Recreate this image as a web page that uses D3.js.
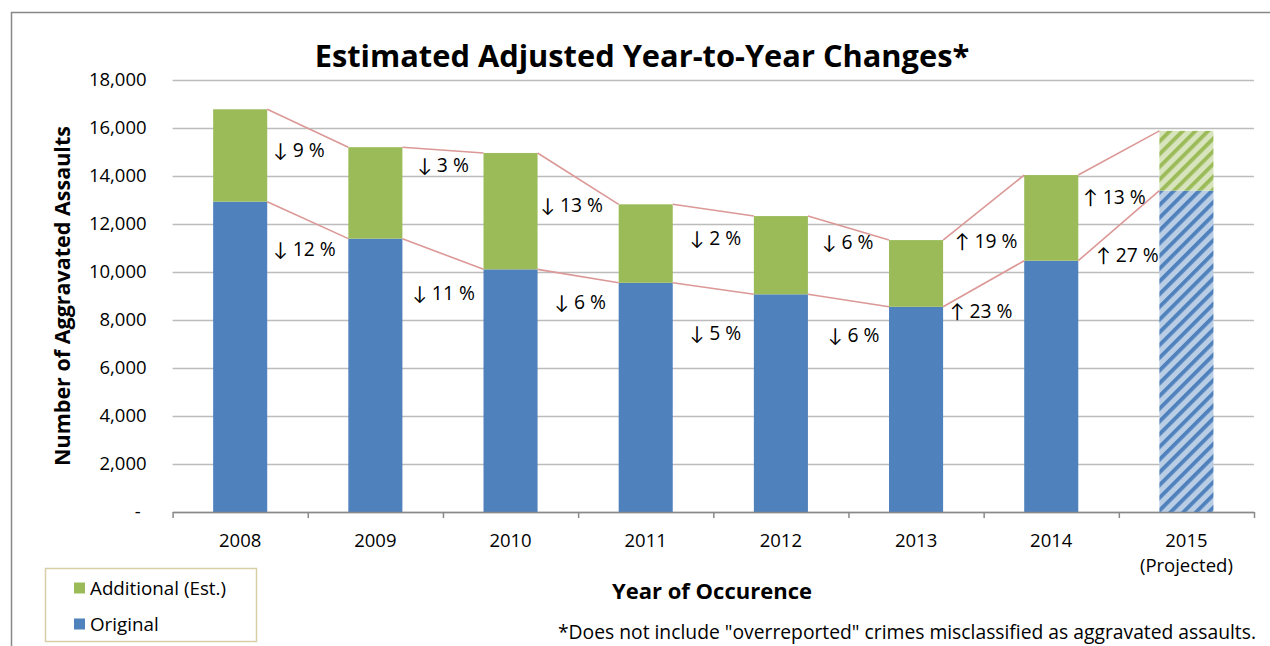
<!DOCTYPE html>
<html>
<head>
<meta charset="utf-8">
<script src="https://cdn.jsdelivr.net/npm/d3@7"></script>
<style>
  html, body { margin: 0; padding: 0; background: #fff; }
  svg { display: block; font-family: "Open Sans", Lato, sans-serif; }
</style>
</head>
<body>
<svg id="chart" width="1270" height="646"></svg>
<script>
// Aggravated assaults by year of occurrence
const years = ["2008", "2009", "2010", "2011", "2012", "2013", "2014", "2015"];
const original = [12930, 11390, 10110, 9550, 9070, 8550, 10470, 13390];
const additional = [3850, 3810, 4850, 3270, 3260, 2780, 3570, 2490];
const projectedYear = "2015";

// Year-to-year change labels (total on top, original below)
const totalChange = ["↓ 9 %", "↓ 3 %", "↓ 13 %", "↓ 2 %", "↓ 6 %", "↑ 19 %", "↑ 13 %"];
const originalChange = ["↓ 12 %", "↓ 11 %", "↓ 6 %", "↓ 5 %", "↓ 6 %", "↑ 23 %", "↑ 27 %"];

const yTicks = [0, 2000, 4000, 6000, 8000, 10000, 12000, 14000, 16000, 18000];

// ---- layout ----
const plot = { left: 172.6, right: 1254, top: 80, bottom: 512 };
const colors = {
  original: "#4F81BD", originalLight: "#B9CDE5",
  additional: "#9BBB59", additionalLight: "#D7E4BD",
  seriesLine: "#DB9896", grid: "#BCBCBC", axis: "#898989"
};
const fs = { tick: 18.5, label: 19.3, title: 30.8, axisTitle: 22, note: 19.3, legend: 18.8 };
// label placement relative to the bar's right edge and the lower end of its connector
const totalNudge = [[6, 3], [15, 12], [3, 1], [17, 22], [14, 2], [12, 1], [5, 22]];
const originalNudge = [[6, 11], [10, 24], [17, 19], [17, 39], [20, 28], [7, 4], [18, -5]];

const svg = d3.select("#chart");

// chart frame
svg.append("rect")
  .attr("x", 11.5).attr("y", 12.5)
  .attr("width", 1300).attr("height", 700)
  .attr("fill", "none").attr("stroke", "#888").attr("stroke-width", 1.5);

// hatch patterns for the projected year
const defs = svg.append("defs");
function hatch(id, bg, fg) {
  const p = defs.append("pattern")
    .attr("id", id).attr("patternUnits", "userSpaceOnUse")
    .attr("width", 9).attr("height", 9)
    .attr("patternTransform", "rotate(45)");
  p.append("rect").attr("width", 9).attr("height", 9).attr("fill", bg);
  p.append("rect").attr("width", 3.8).attr("height", 9).attr("fill", fg);
}
hatch("hatchOriginal", colors.originalLight, colors.original);
hatch("hatchAdditional", colors.additionalLight, colors.additional);

const x = d3.scaleBand().domain(years)
  .range([plot.left, plot.right]).paddingInner(0.6).paddingOuter(0.3);
const y = d3.scaleLinear().domain([0, 18000]).range([plot.bottom, plot.top]);

// y axis with gridlines
const yAxis = svg.append("g")
  .attr("transform", `translate(${plot.left},0)`)
  .call(d3.axisLeft(y).tickValues(yTicks)
    .tickSize(-(plot.right - plot.left)).tickPadding(26)
    .tickFormat(d => d === 0 ? "-" : d3.format(",")(d)));
yAxis.select(".domain").remove();
yAxis.selectAll(".tick line").attr("stroke", colors.grid).attr("stroke-width", 1.5);
yAxis.selectAll(".tick text")
  .attr("font-size", fs.tick).attr("fill", "#000")
  .attr("font-family", "'Open Sans', sans-serif");
yAxis.selectAll(".tick").filter(d => d === 0).select("text").attr("dx", -6);

// stacked data
const stack = years.map((yr, i) => ({
  year: yr, original: original[i], total: original[i] + additional[i],
  projected: yr === projectedYear
}));

// bars
const bars = svg.append("g");
bars.selectAll("rect.orig").data(stack).join("rect")
  .attr("class", "orig")
  .attr("x", d => x(d.year)).attr("width", x.bandwidth())
  .attr("y", d => y(d.original)).attr("height", d => y(0) - y(d.original))
  .attr("fill", d => d.projected ? "url(#hatchOriginal)" : colors.original);
bars.selectAll("rect.add").data(stack).join("rect")
  .attr("class", "add")
  .attr("x", d => x(d.year)).attr("width", x.bandwidth())
  .attr("y", d => y(d.total)).attr("height", d => y(d.original) - y(d.total))
  .attr("fill", d => d.projected ? "url(#hatchAdditional)" : colors.additional);

// series lines joining consecutive bar tops
const pairs = d3.pairs(stack);
function seriesLines(key) {
  svg.append("g").selectAll("line").data(pairs).join("line")
    .attr("x1", ([a]) => x(a.year) + x.bandwidth()).attr("y1", ([a]) => y(a[key]))
    .attr("x2", ([, b]) => x(b.year)).attr("y2", ([, b]) => y(b[key]))
    .attr("stroke", colors.seriesLine).attr("stroke-width", 1.6);
}
seriesLines("total");
seriesLines("original");

// change labels
function changeLabels(texts, key, nudge) {
  svg.append("g").selectAll("text").data(pairs).join("text")
    .attr("x", ([a], i) => x(a.year) + x.bandwidth() + nudge[i][0])
    .attr("y", ([a, b], i) => Math.max(y(a[key]), y(b[key])) + nudge[i][1])
    .attr("dy", "0.35em")
    .attr("font-size", fs.label).attr("fill", "#000")
    .text((d, i) => texts[i]);
}
changeLabels(totalChange, "total", totalNudge);
changeLabels(originalChange, "original", originalNudge);

// x axis with ticks at category boundaries
const step = x.step();
const boundaries = d3.range(years.length + 1).map(i => plot.left + i * step);
const xb = d3.scaleLinear().domain([plot.left, plot.right]).range([plot.left, plot.right]);
const xAxis = svg.append("g")
  .attr("transform", `translate(0,${plot.bottom})`)
  .call(d3.axisBottom(xb).tickValues(boundaries).tickSize(6).tickFormat("").tickSizeOuter(0));
xAxis.select(".domain").attr("stroke", colors.axis).attr("stroke-width", 1.5);
xAxis.selectAll(".tick line").attr("stroke", colors.axis).attr("stroke-width", 1.5);

// category labels
const xl = svg.append("g");
xl.selectAll("text").data(years).join("text")
  .attr("x", d => x(d) + x.bandwidth() / 2).attr("y", 541).attr("dy", "0.35em")
  .attr("text-anchor", "middle").attr("font-size", fs.tick)
  .text(d => d);
xl.append("text")
  .attr("x", x(projectedYear) + x.bandwidth() / 2).attr("y", 566).attr("dy", "0.35em")
  .attr("text-anchor", "middle").attr("font-size", fs.tick)
  .text("(Projected)");

// titles
svg.append("text")
  .attr("x", 642).attr("y", 67)
  .attr("text-anchor", "middle").attr("font-size", fs.title).attr("font-weight", "bold")
  .text("Estimated Adjusted Year-to-Year Changes*");
svg.append("text")
  .attr("transform", `translate(62,${(plot.top + plot.bottom) / 2}) rotate(-90)`)
  .attr("dy", "0.35em")
  .attr("text-anchor", "middle").attr("font-size", 21.5).attr("font-weight", "bold")
  .text("Number of Aggravated Assaults");
svg.append("text")
  .attr("x", 712).attr("y", 591).attr("dy", "0.35em")
  .attr("text-anchor", "middle").attr("font-size", fs.axisTitle).attr("font-weight", "bold")
  .text("Year of Occurence");
svg.append("text")
  .attr("x", 1256).attr("y", 632).attr("dy", "0.35em")
  .attr("text-anchor", "end").attr("font-size", fs.note)
  .text("*Does not include \"overreported\" crimes misclassified as aggravated assaults.");

// legend
const legendItems = [
  { label: "Additional (Est.)", color: colors.additional },
  { label: "Original", color: colors.original }
];
const lg = svg.append("g");
lg.append("rect")
  .attr("x", 45.5).attr("y", 568.5).attr("width", 211).attr("height", 73)
  .attr("fill", "#fff").attr("stroke", "#D6CFA8").attr("stroke-width", 1.5);
const li = lg.selectAll("g.item").data(legendItems).join("g")
  .attr("class", "item")
  .attr("transform", (d, i) => `translate(74,${588 + i * 36})`);
li.append("rect").attr("x", 0).attr("y", -5.5).attr("width", 11).attr("height", 11)
  .attr("fill", d => d.color);
li.append("text").attr("x", 16).attr("dy", "0.35em").attr("font-size", fs.legend)
  .text(d => d.label);
</script>
</body>
</html>
